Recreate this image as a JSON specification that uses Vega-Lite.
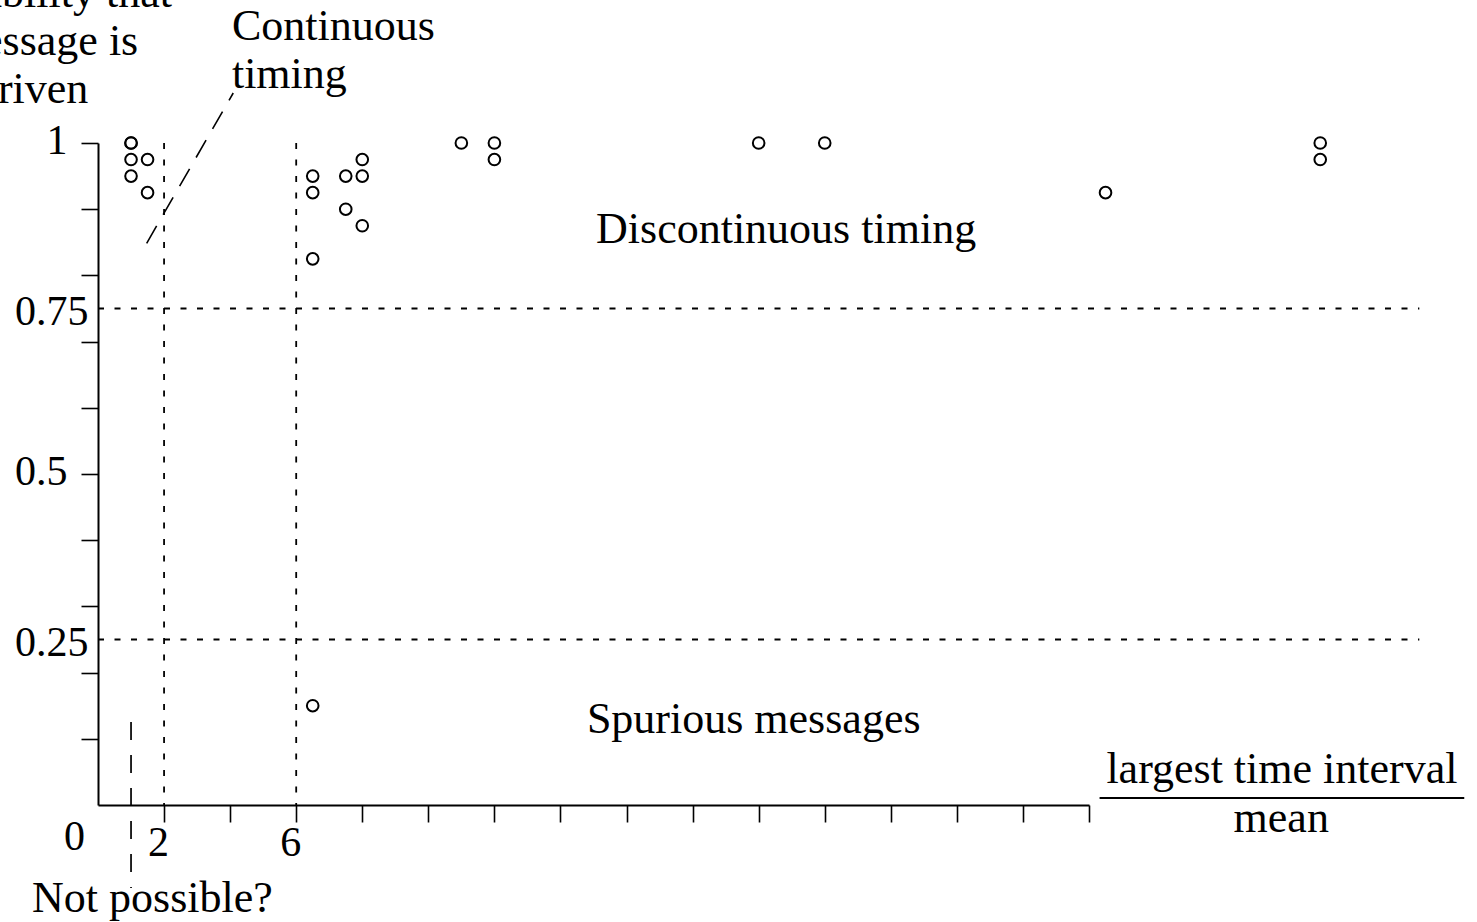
{
  "$schema": "https://vega.github.io/schema/vega-lite/v6.json",
  "width": 991,
  "height": 662,
  "autosize": {"type": "none"},
  "padding": {"left": 98, "top": 143, "right": 388, "bottom": 117},
  "background": "white",
  "config": {"view": {"stroke": null}, "font": "Liberation Serif"},
  "datasets": {
    "pts": [
      {"x": 1, "y": 1}, {"x": 1, "y": 1}, {"x": 1, "y": 0.975}, {"x": 1, "y": 0.95},
      {"x": 1.5, "y": 0.975}, {"x": 1.5, "y": 0.925},
      {"x": 6.5, "y": 0.95}, {"x": 6.5, "y": 0.925}, {"x": 6.5, "y": 0.825}, {"x": 6.5, "y": 0.15},
      {"x": 7.5, "y": 0.95}, {"x": 7.5, "y": 0.9},
      {"x": 8, "y": 0.975}, {"x": 8, "y": 0.95}, {"x": 8, "y": 0.875},
      {"x": 11, "y": 1}, {"x": 12, "y": 1}, {"x": 12, "y": 0.975},
      {"x": 20, "y": 1}, {"x": 22, "y": 1}, {"x": 30.5, "y": 0.925},
      {"x": 37, "y": 1}, {"x": 37, "y": 0.975}
    ],
    "dotted": [
      {"x": 0, "x2": 40, "y": 0.75, "y2": 0.75},
      {"x": 0, "x2": 40, "y": 0.25, "y2": 0.25},
      {"x": 2, "x2": 2, "y": 1, "y2": 0},
      {"x": 6, "x2": 6, "y": 1, "y2": 0}
    ],
    "dashed": [{"x": 1, "x2": 1, "y": 0.1254, "y2": -0.1254}],
    "diag": [{"x": 1.473, "y": 0.8485, "x2": 4.094, "y2": 1.0755}],
    "frac": [{"x": 30.32, "x2": 41.36, "y": 0.0106, "y2": 0.0106}],
    "tl": [
      {"t": "Continuous", "x": 4.054, "y": 1.1556},
      {"t": "timing", "x": 4.054, "y": 1.0831},
      {"t": "Not possible?", "x": -1.997, "y": -0.1616}
    ],
    "tc": [
      {"t": "Discontinuous timing", "x": 20.83, "y": 0.849},
      {"t": "Spurious messages", "x": 19.85, "y": 0.1088},
      {"t": "largest time interval", "x": 35.84, "y": 0.0332},
      {"t": "mean", "x": 35.82, "y": -0.0408}
    ],
    "tr": [
      {"t": "Probability that", "x": 2.239, "y": 1.2054},
      {"t": "message is", "x": 1.218, "y": 1.1329},
      {"t": "driven", "x": -0.293, "y": 1.0599}
    ]
  },
  "layer": [
    {
      "data": {"name": "pts"},
      "mark": {"type": "point", "filled": false, "stroke": "black", "strokeWidth": 2, "size": 135, "opacity": 1},
      "encoding": {
        "x": {
          "field": "x", "type": "quantitative",
          "scale": {"domain": [0, 30], "nice": false, "zero": false},
          "axis": {
            "title": null,
            "values": [0, 2, 4, 6, 8, 10, 12, 14, 16, 18, 20, 22, 24, 26, 28, 30],
            "grid": false,
            "domainColor": "black", "domainWidth": 2,
            "tickColor": "black", "tickWidth": 1.6, "tickSize": 17,
            "tickOpacity": {"condition": {"test": "datum.value == 0", "value": 0}, "value": 1},
            "labelExpr": "datum.value == 0 ? '0' : datum.value == 2 ? '2' : datum.value == 6 ? '6' : ''",
            "labelFont": "Liberation Serif", "labelFontSize": 42, "labelColor": "black",
            "labelBaseline": "alphabetic",
            "labelPadding": {"condition": {"test": "datum.value == 0", "value": 27}, "value": 33},
            "labelOffset": {"condition": {"test": "datum.value == 0", "value": -24}, "value": -6},
            "labelFlush": false, "labelOverlap": false, "labelBound": false
          }
        },
        "y": {
          "field": "y", "type": "quantitative",
          "scale": {"domain": [0, 1], "nice": false, "zero": false},
          "axis": {
            "title": null,
            "values": [0.1, 0.2, 0.25, 0.3, 0.4, 0.5, 0.6, 0.7, 0.75, 0.8, 0.9, 1],
            "grid": false,
            "domainColor": "black", "domainWidth": 2,
            "tickColor": "black", "tickWidth": 1.6, "tickSize": 17,
            "tickOpacity": {"condition": {"test": "datum.value == 0.25 || datum.value == 0.75", "value": 0}, "value": 1},
            "labelExpr": "datum.value == 1 ? '1' : datum.value == 0.75 ? '0.75' : datum.value == 0.5 ? '0.5' : datum.value == 0.25 ? '0.25' : ''",
            "labelFont": "Liberation Serif", "labelFontSize": 42, "labelColor": "black",
            "labelAlign": "right", "labelBaseline": "alphabetic",
            "labelPadding": {"condition": {"test": "datum.value == 0.25 || datum.value == 0.75", "value": -7}, "value": 14},
            "labelOffset": {"condition": {"test": "datum.value == 0.25 || datum.value == 0.75", "value": 16}, "value": 10},
            "labelFlush": false, "labelOverlap": false, "labelBound": false
          }
        }
      }
    },
    {
      "data": {"name": "dotted"},
      "mark": {"type": "rule", "color": "black", "strokeWidth": 1.8, "strokeDash": [6, 10.5]},
      "encoding": {
        "x": {"field": "x", "type": "quantitative", "title": null},
        "x2": {"field": "x2"},
        "y": {"field": "y", "type": "quantitative", "title": null},
        "y2": {"field": "y2"}
      }
    },
    {
      "data": {"name": "dashed"},
      "mark": {"type": "rule", "color": "black", "strokeWidth": 1.7, "strokeDash": [18, 15]},
      "encoding": {
        "x": {"field": "x", "type": "quantitative", "title": null},
        "x2": {"field": "x2"},
        "y": {"field": "y", "type": "quantitative", "title": null},
        "y2": {"field": "y2"}
      }
    },
    {
      "data": {"name": "diag"},
      "mark": {"type": "rule", "color": "black", "strokeWidth": 1.6, "strokeDash": [20, 13]},
      "encoding": {
        "x": {"field": "x", "type": "quantitative", "title": null},
        "x2": {"field": "x2"},
        "y": {"field": "y", "type": "quantitative", "title": null},
        "y2": {"field": "y2"}
      }
    },
    {
      "data": {"name": "frac"},
      "mark": {"type": "rule", "color": "black", "strokeWidth": 1.8},
      "encoding": {
        "x": {"field": "x", "type": "quantitative", "title": null},
        "x2": {"field": "x2"},
        "y": {"field": "y", "type": "quantitative", "title": null},
        "y2": {"field": "y2"}
      }
    },
    {
      "data": {"name": "tl"},
      "mark": {"type": "text", "align": "left", "baseline": "alphabetic", "font": "Liberation Serif", "fontSize": 44, "color": "black"},
      "encoding": {
        "x": {"field": "x", "type": "quantitative", "title": null},
        "y": {"field": "y", "type": "quantitative", "title": null},
        "text": {"field": "t"}
      }
    },
    {
      "data": {"name": "tc"},
      "mark": {"type": "text", "align": "center", "baseline": "alphabetic", "font": "Liberation Serif", "fontSize": 44, "color": "black"},
      "encoding": {
        "x": {"field": "x", "type": "quantitative", "title": null},
        "y": {"field": "y", "type": "quantitative", "title": null},
        "text": {"field": "t"}
      }
    },
    {
      "data": {"name": "tr"},
      "mark": {"type": "text", "align": "right", "baseline": "alphabetic", "font": "Liberation Serif", "fontSize": 44, "color": "black"},
      "encoding": {
        "x": {"field": "x", "type": "quantitative", "title": null},
        "y": {"field": "y", "type": "quantitative", "title": null},
        "text": {"field": "t"}
      }
    }
  ]
}
